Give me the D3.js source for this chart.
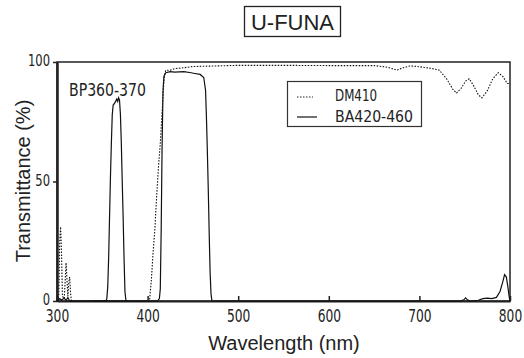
<!DOCTYPE html>
<html>
<head>
<meta charset="utf-8">
<script src="https://cdn.jsdelivr.net/npm/d3@7"></script>
<style>
  body { margin: 0; background: #fff; }
  svg { display: block; }
  .num { font-family: 'Liberation Sans Narrow', 'DejaVu Sans Condensed', 'Liberation Sans', sans-serif; }
  .lab { font-family: 'Liberation Sans', Arial, sans-serif; }
</style>
</head>
<body>
<svg width="524" height="358"></svg>
<script>
// DM410 dichroic mirror (dotted)
var dm410 = [
  [300, 0], [302, 2], [303, 25], [304, 31], [305, 20], [306, 2], [308, 1],
  [310, 16], [311, 9], [312, 2], [313, 8], [314, 10], [315, 3], [316, 0],
  [402, 0], [404, 8], [406, 20], [408, 30], [410, 44], [412, 56], [414, 66],
  [416, 79], [417, 86], [418, 92], [419, 95], [420, 96.5], [425, 96.6],
  [430, 97.2], [440, 97.6], [450, 98.1], [470, 98.3], [500, 98.6], [550, 98.6],
  [600, 98.5], [650, 98.5], [665, 97.8], [675, 96.6], [682, 97.6], [690, 98.4],
  [700, 98], [712, 97.4], [722, 96.6], [730, 93], [737, 88.5], [741, 87],
  [746, 89], [751, 92], [755, 93], [760, 90], [765, 86.3], [769, 85],
  [775, 88], [781, 93], [787, 95.5], [792, 94], [797, 91], [800, 91]
]

// BA420-460 barrier filter (solid)
var ba420 = [
  [300, 0], [303, 1], [305, 0.3], [308, 1.2], [310, 0.2], [312, 1.5], [314, 0],
  [411, 0], [413, 1], [414, 5], [415, 30], [416, 65], [417, 88], [418, 94],
  [420, 95.5], [425, 96], [430, 95.8], [440, 96], [448, 95.5], [452, 95.2],
  [458, 94.8], [462, 93.5], [464, 88], [465, 76], [466, 62], [467, 46],
  [468, 28], [469, 12], [470, 3], [471, 0], [745, 0], [749, 0.5], [751, 1.3],
  [753, 0.5], [756, 0], [765, 0.3], [770, 1], [775, 1.2], [780, 1], [785, 1.5],
  [789, 4], [792, 8], [794, 11], [796, 10], [798, 5], [799, 2], [800, 0]
]

// BP360-370 excitation filter (solid)
var bp360 = [
  [340, 0], [354, 0], [355, 1], [356, 6], [357, 18], [358, 35], [359, 52],
  [360, 66], [361, 78], [362, 82], [364, 83], [366, 84.5], [367, 83.5],
  [368, 85], [369, 84], [370, 78], [371, 66], [372, 50], [373, 35],
  [374, 18], [375, 4], [376, 0.5], [377, 0]
]

var xTicks = [300, 400, 500, 600, 700, 800]
var yTicks = [0, 50, 100]

var svg = d3.select('svg')
var x0 = 57, x1 = 510, y0 = 301, y1 = 62

var x = d3.scaleLinear().domain([300, 800]).range([x0, x1])
var y = d3.scaleLinear().domain([0, 100]).range([y0, y1])

// squeeze a text horizontally, the reference uses a narrow face
function narrow(sel, k) {
  sel.each(function() {
    var w = this.getComputedTextLength()
    d3.select(this).attr('textLength', w * k).attr('lengthAdjust', 'spacingAndGlyphs')
  })
}

// title
svg.append('rect')
  .attr('x', 244.5).attr('y', 6.5).attr('width', 96).attr('height', 30)
  .attr('fill', 'none').attr('stroke', '#222').attr('stroke-width', 1.3)
svg.append('text').attr('class', 'lab')
  .attr('x', 292.5).attr('y', 29.5).attr('text-anchor', 'middle')
  .attr('font-size', 22).attr('fill', '#222')
  .text('U-FUNA')

// plot frame
svg.append('rect')
  .attr('x', x0).attr('y', y1).attr('width', x1 - x0).attr('height', y0 - y1)
  .attr('fill', 'none').attr('stroke', '#222').attr('stroke-width', 1.5)

var xAxis = svg.append('g')
  .attr('transform', 'translate(0,' + y0 + ')')
  .call(d3.axisBottom(x).tickValues(xTicks).tickSizeInner(-5).tickSizeOuter(0).tickPadding(9))
xAxis.select('.domain').attr('stroke-width', 2).attr('stroke', '#222')

var yAxis = svg.append('g')
  .attr('transform', 'translate(' + x0 + ',0)')
  .call(d3.axisLeft(y).tickValues(yTicks).tickSize(4).tickSizeOuter(0).tickPadding(3))
yAxis.select('.domain').attr('stroke-width', 2.5).attr('stroke', '#222')

svg.selectAll('.tick text')
  .attr('class', 'num').attr('font-size', 16).attr('fill', '#222')
svg.selectAll('.tick line').attr('stroke', '#222').attr('stroke-width', 1.5)
xAxis.selectAll('.tick text').attr('font-size', 17)
yAxis.selectAll('.tick text').attr('dy', '0.22em')
narrow(svg.selectAll('.tick text'), 0.8)

var line = d3.line()
  .x(d => x(d[0]))
  .y(d => y(d[1]))

svg.append('path').datum(dm410)
  .attr('d', line).attr('fill', 'none')
  .attr('stroke', '#111').attr('stroke-width', 1.1)
  .attr('stroke-dasharray', '1.5,1.5')

;[ba420, bp360].forEach(function(s) {
  svg.append('path').datum(s)
    .attr('d', line).attr('fill', 'none')
    .attr('stroke', '#111').attr('stroke-width', 1.2)
})

// BP label
svg.append('text').attr('class', 'num')
  .attr('x', 69).attr('y', 96).attr('font-size', 17).attr('fill', '#222')
  .attr('textLength', 77).attr('lengthAdjust', 'spacingAndGlyphs')
  .text('BP360-370')

// legend
var lg = svg.append('g')
lg.append('rect')
  .attr('x', 287.5).attr('y', 81.5).attr('width', 134).attr('height', 45)
  .attr('fill', '#fff').attr('stroke', '#333').attr('stroke-width', 1.2)
lg.append('line')
  .attr('x1', 297).attr('x2', 313).attr('y1', 97).attr('y2', 97)
  .attr('stroke', '#222').attr('stroke-dasharray', '1.5,1.5')
lg.append('line')
  .attr('x1', 297).attr('x2', 317).attr('y1', 117).attr('y2', 117)
  .attr('stroke', '#111').attr('stroke-width', 1.2)
lg.append('text').attr('class', 'num')
  .attr('x', 335).attr('y', 101).attr('font-size', 16).attr('fill', '#222')
  .attr('textLength', 42).attr('lengthAdjust', 'spacingAndGlyphs')
  .text('DM410')
lg.append('text').attr('class', 'num')
  .attr('x', 335).attr('y', 122).attr('font-size', 16).attr('fill', '#222')
  .attr('textLength', 78).attr('lengthAdjust', 'spacingAndGlyphs')
  .text('BA420-460')

// axis titles
svg.append('text').attr('class', 'lab')
  .attr('x', 284).attr('y', 350).attr('text-anchor', 'middle')
  .attr('font-size', 20).attr('fill', '#222')
  .text('Wavelength (nm)')
svg.append('text').attr('class', 'lab')
  .attr('transform', 'translate(30,181) rotate(-90)')
  .attr('text-anchor', 'middle')
  .attr('font-size', 20).attr('fill', '#222')
  .text('Transmittance (%)')
</script>
</body>
</html>
